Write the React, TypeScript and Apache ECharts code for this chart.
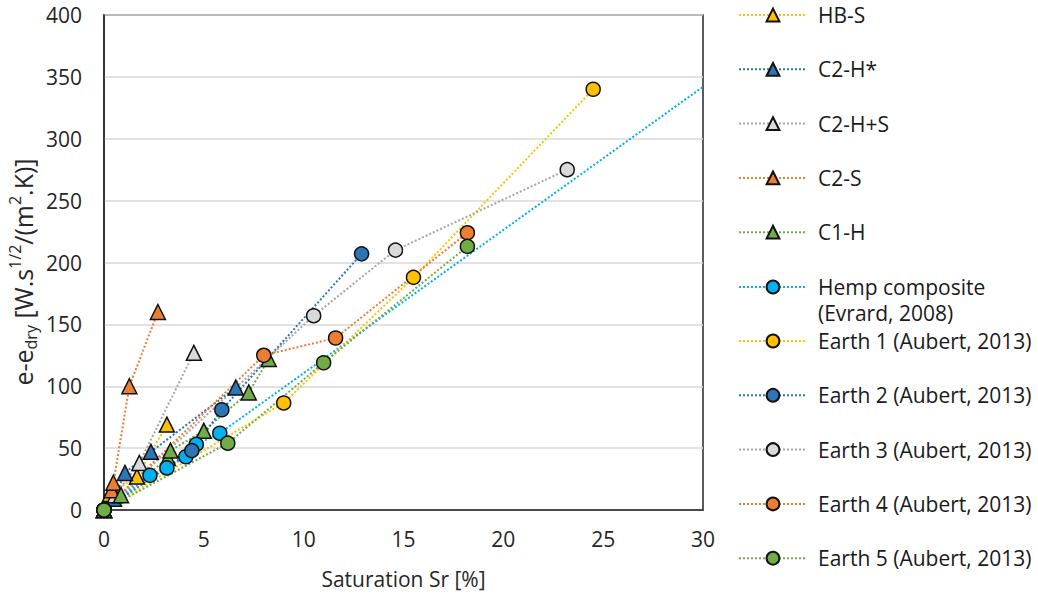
import React, { useEffect, useRef } from "react";
import * as echarts from "echarts";

// ---- data (Saturation Sr [%], e - e_dry) ----
const seriesNames = [
  "HB-S",
  "C2-H*",
  "C2-H+S",
  "C2-S",
  "C1-H",
  "Hemp composite (Evrard, 2008)",
  "Earth 1 (Aubert, 2013)",
  "Earth 2 (Aubert, 2013)",
  "Earth 3 (Aubert, 2013)",
  "Earth 4 (Aubert, 2013)",
  "Earth 5 (Aubert, 2013)",
];

const hbS = [[0, 0], [0.3, 13], [1.65, 27], [3.15, 69]];
const c2H = [[0, 0], [0.5, 9], [1.05, 30], [2.35, 47], [6.6, 99]];
const c2HS = [[0, 0], [0.55, 12], [1.77, 38], [4.5, 127]];
const c2S = [[0, 0], [0.38, 16], [0.47, 22], [1.27, 100], [2.7, 160]];
const c1H = [[0, 0], [0.85, 12], [3.2, 42], [3.33, 48], [5.0, 64], [7.25, 95], [8.25, 122]];
const hemp = [[0, 0], [2.3, 28], [3.15, 34], [4.1, 43], [4.62, 53], [5.8, 62]];
const hempTrendEnd = [30, 342];
const earth1 = [[0, 0], [9.0, 86.5], [15.5, 188], [24.5, 340]];
const earth2 = [[0, 0], [4.4, 48], [5.9, 81], [12.9, 207]];
const earth3 = [[0, 0], [10.5, 157], [14.6, 210], [23.2, 275]];
const earth4 = [[0, 0], [8.0, 125], [11.6, 139], [18.2, 224]];
const earth5 = [[0, 0], [6.2, 54], [11.0, 119], [18.2, 213]];

const FONT = "Open Sans";

export default function App() {
  const ref = useRef<HTMLDivElement>(null);

  useEffect(() => {
    const chart = echarts.init(ref.current!, null, { renderer: "svg" });

    const mk = (name: string, data: any[], line: string, fill: string, symbol: string) => ({
      type: "line",
      name,
      data,
      symbol,
      symbolSize: symbol === "triangle" ? 15 : 14,
      showAllSymbol: true,
      lineStyle: { color: line, width: 2, type: "dotted" },
      itemStyle: { color: fill, borderColor: "#111", borderWidth: 1.5 },
      emphasis: { disabled: true },
    });

    const hempData: any[] = [...hemp, { value: hempTrendEnd, symbol: "none" }];

    const series = [
      mk(seriesNames[0], hbS, "#FFC000", "#FFC000", "triangle"),
      mk(seriesNames[1], c2H, "#2E75B6", "#2E75B6", "triangle"),
      mk(seriesNames[2], c2HS, "#A6A6A6", "#D9D9D9", "triangle"),
      mk(seriesNames[3], c2S, "#ED7D31", "#ED7D31", "triangle"),
      mk(seriesNames[4], c1H, "#70AD47", "#70AD47", "triangle"),
      mk(seriesNames[5], hempData, "#00B0F0", "#00B0F0", "circle"),
      mk(seriesNames[6], earth1, "#FFC000", "#FFC000", "circle"),
      mk(seriesNames[7], earth2, "#2E75B6", "#2E75B6", "circle"),
      mk(seriesNames[8], earth3, "#A6A6A6", "#D9D9D9", "circle"),
      mk(seriesNames[9], earth4, "#ED7D31", "#ED7D31", "circle"),
      mk(seriesNames[10], earth5, "#70AD47", "#70AD47", "circle"),
    ];

    const legendText = {
      fontFamily: FONT,
      fontSize: 21,
      color: "#1a1a1a",
      lineHeight: 22,
      padding: [0, 0, 0, 6],
    };
    const legendBase = {
      orient: "vertical",
      left: 738,
      padding: 0,
      itemWidth: 68,
      itemHeight: 16,
      itemGap: 32.3,
      selectedMode: false,
      textStyle: legendText,
    };

    chart.setOption({
      animation: false,
      backgroundColor: "#fff",
      textStyle: { fontFamily: FONT },
      grid: {
        left: 104,
        top: 15,
        right: 335,
        bottom: 89,
        show: true,
        borderColor: "#262626",
        borderWidth: 1.5,
      },
      xAxis: {
        type: "value",
        min: 0,
        max: 30,
        interval: 5,
        name: "Saturation Sr [%]",
        nameLocation: "middle",
        nameGap: 58,
        nameTextStyle: { fontFamily: FONT, fontSize: 21, color: "#262626" },
        axisLine: { show: true, lineStyle: { color: "#262626", width: 1.5 } },
        axisTick: { show: false },
        splitLine: { show: false },
        axisLabel: { fontFamily: FONT, fontSize: 21, color: "#262626", margin: 18 },
      },
      yAxis: {
        type: "value",
        min: 0,
        max: 400,
        interval: 50,
        axisLine: { show: true, lineStyle: { color: "#262626", width: 1.5 } },
        axisTick: { show: false },
        splitLine: { show: true, lineStyle: { color: "#D9D9D9", width: 1.5 } },
        axisLabel: { fontFamily: FONT, fontSize: 21, color: "#262626", margin: 22 },
      },
      legend: [
        { ...legendBase, top: 4, data: seriesNames.slice(0, 5) },
        {
          ...legendBase,
          top: 248,
          data: [seriesNames[5]],
          formatter: () => " \nHemp composite\n(Evrard, 2008)",
          textStyle: { ...legendText, lineHeight: 26 },
        },
        { ...legendBase, top: 330, data: seriesNames.slice(6) },
      ],
      graphic: [
        {
          type: "text",
          x: 23,
          y: 272,
          rotation: Math.PI / 2,
          style: {
            text: "{a|e-e}{sub|dry}{a| [W.s}{sup|1/2}{a|/(m}{sup|2}{a|.K)]}",
            align: "center",
            verticalAlign: "middle",
            fill: "#262626",
            rich: {
              a: { fontFamily: FONT, fontSize: 25, lineHeight: 32, fill: "#262626", verticalAlign: "middle" },
              sub: { fontFamily: FONT, fontSize: 16, lineHeight: 32, fill: "#262626", verticalAlign: "bottom" },
              sup: { fontFamily: FONT, fontSize: 16, lineHeight: 32, fill: "#262626", verticalAlign: "top" },
            },
          },
        },
      ],
      series,
    });

    return () => chart.dispose();
  }, []);

  return (
    <div
      ref={ref}
      style={{ position: "absolute", left: 0, top: 0, width: 1038, height: 599, background: "#fff" }}
    />
  );
}
